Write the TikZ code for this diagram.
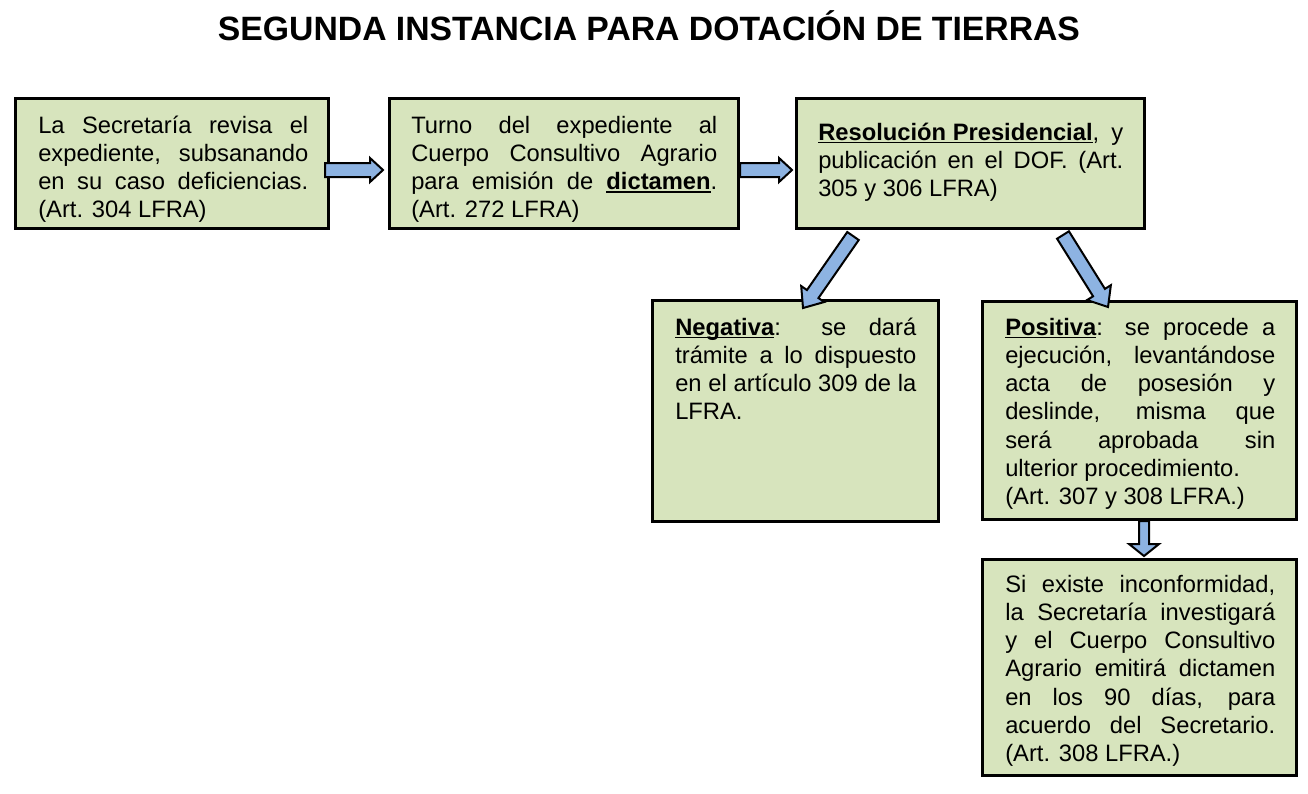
\documentclass[tikz,border=0pt]{standalone}
\usepackage{fontspec}
\setmainfont{Liberation Sans}
\usetikzlibrary{calc}
\definecolor{verde}{HTML}{D7E4BD}
\definecolor{azul}{HTML}{8DB3E2}
\newcommand{\subr}[1]{\setbox0=\hbox{\textbf{#1}}\rlap{\rule[-2.6pt]{\wd0}{1.4pt}}\box0}
\newcommand{\flecha}[5]{%
  \coordinate (fc) at ($(#2)!#5!(#1)$);
  \draw[flechaborde] ($(#1)!#3!90:(#2)$) -- ($(fc)!#3!90:(#2)$) -- ($(fc)!#4!90:(#2)$) -- (#2)
    -- ($(fc)!#4!-90:(#2)$) -- ($(fc)!#3!-90:(#2)$) -- ($(#1)!#3!-90:(#2)$) -- cycle;}
\tikzset{
  caja/.style={draw, line width=2.25pt, fill=verde, anchor=north west, inner sep=0pt},
  texto/.style={anchor=base west, inner sep=0pt, align=justify, font=\fontsize{17.8}{21.2}\selectfont},
  titulo/.style={anchor=base, inner sep=0pt, font=\fontsize{25.3}{30}\selectfont\bfseries},
  flechaborde/.style={draw, line width=1.5pt, fill=azul, line join=miter}
}
\begin{document}
\begin{tikzpicture}[x=0.75pt,y=-0.75pt]
\useasboundingbox (0,0) rectangle (1308,793);
\node[titulo] (titulo) at (649,40) {SEGUNDA INSTANCIA PARA DOTACIÓN DE TIERRAS};
% cajas
\node[caja, minimum width=234.75pt, minimum height=97.5pt] (secretaria) at (14,97) {};
\node[caja, minimum width=261.75pt, minimum height=97.5pt] (turno) at (388,97) {};
\node[caja, minimum width=261pt, minimum height=97.5pt] (resolucion) at (795,97) {};
\node[caja, minimum width=214.5pt, minimum height=165.75pt] (negativa) at (651,299) {};
\node[caja, minimum width=235.5pt, minimum height=163.5pt] (positiva) at (981,300) {};
\node[caja, minimum width=235.5pt, minimum height=162pt] (inconformidad) at (981,558) {};
% textos
\node[texto, text width=202.5pt] (secretaria-t) at ([shift={(24,36)}]secretaria.north west)
  {La Secretaría revisa el\linebreak expediente, subsanando\linebreak en su caso deficiencias.\linebreak (Art. 304 LFRA)};
\node[texto, text width=229.5pt] (turno-t) at ([shift={(23,36)}]turno.north west)
  {Turno del expediente al\linebreak Cuerpo Consultivo Agrario\linebreak para emisión de \subr{dictamen}.\linebreak (Art. 272 LFRA)};
\node[texto, text width=228.75pt] (resolucion-t) at ([shift={(23,43)}]resolucion.north west)
  {\subr{Resolución Presidencial}, y\linebreak publicación en el DOF. (Art.\linebreak 305 y 306 LFRA)};
\node[texto, text width=180.75pt] (negativa-t) at ([shift={(24,36)}]negativa.north west)
  {\subr{Negativa}: se dará\linebreak trámite a lo dispuesto\linebreak en el artículo 309 de la\linebreak LFRA.};
\node[texto, text width=202.5pt] (positiva-t) at ([shift={(24,35)}]positiva.north west)
  {\subr{Positiva}: se procede a\linebreak ejecución, levantándose\linebreak acta de posesión y\linebreak deslinde, misma que\linebreak será aprobada sin\linebreak ulterior procedimiento.\par (Art. 307 y 308 LFRA.)};
\node[texto, text width=202.5pt] (inconformidad-t) at ([shift={(24,34)}]inconformidad.north west)
  {Si existe inconformidad,\linebreak la Secretaría investigará\linebreak y el Cuerpo Consultivo\linebreak Agrario emitirá dictamen\linebreak en los 90 días, para\linebreak acuerdo del Secretario.\linebreak (Art. 308 LFRA.)};
% flechas
\coordinate (a1s) at ([shift={(-5,6.5)}]secretaria.east);
\coordinate (a1e) at ([shift={(-5,6.5)}]turno.west);
\coordinate (a2s) at ([shift={(0,6.5)}]turno.east);
\coordinate (a2e) at ([shift={(-3,6.5)}]resolucion.west);
\coordinate (a3s) at ([shift={(-117.5,6)}]resolucion.south);
\coordinate (a3e) at ([shift={(7.5,9)}]negativa.north);
\coordinate (a4s) at ([shift={(92.5,5)}]resolucion.south);
\coordinate (a4e) at ([shift={(-31.5,7)}]positiva.north);
\coordinate (a5s) at ([shift={(4.5,0)}]positiva.south);
\coordinate (a5e) at ([shift={(4.5,-2)}]inconformidad.north);
\flecha{a1s}{a1e}{5.25pt}{9pt}{9.75pt}
\flecha{a2s}{a2e}{5.25pt}{9pt}{9.75pt}
\flecha{a3s}{a3e}{5.25pt}{10.5pt}{12.75pt}
\flecha{a4s}{a4e}{5.25pt}{10.5pt}{12.75pt}
\flecha{a5s}{a5e}{3.75pt}{11.25pt}{9pt}
\end{tikzpicture}
\end{document}
